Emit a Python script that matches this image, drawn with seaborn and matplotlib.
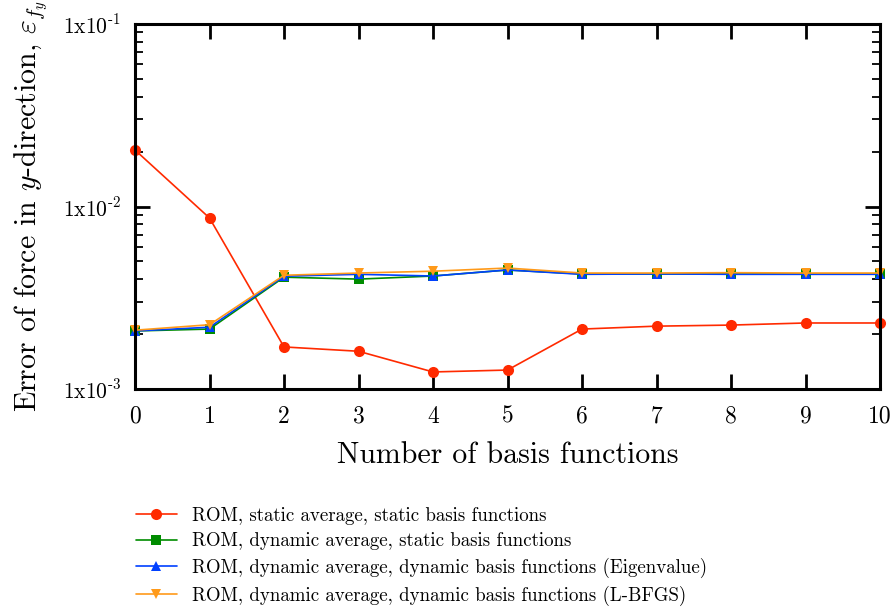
import numpy as np
import pandas as pd
import matplotlib
matplotlib.use("Agg")
import matplotlib.pyplot as plt
import seaborn as sns
from matplotlib.ticker import FixedLocator, LogLocator, NullFormatter

n_basis = [0, 1, 2, 3, 4, 5, 6, 7, 8, 9, 10]
static_static = [0.0204, 0.00865, 0.00170, 0.00161, 0.00124, 0.00127, 0.00213, 0.00221, 0.00224, 0.00230, 0.00230]
dyn_static = [0.00208, 0.00213, 0.00410, 0.00400, 0.00416, 0.00449, 0.00427, 0.00427, 0.00427, 0.00427, 0.00427]
dyn_eig = [0.00208, 0.00218, 0.00415, 0.00425, 0.00416, 0.00449, 0.00425, 0.00427, 0.00425, 0.00425, 0.00425]
dyn_lbfgs = [0.00210, 0.00225, 0.00420, 0.00432, 0.00442, 0.00460, 0.00432, 0.00432, 0.00434, 0.00432, 0.00432]

labels = ["ROM, static average, static basis functions",
          "ROM, dynamic average, static basis functions",
          "ROM, dynamic average, dynamic basis functions (Eigenvalue)",
          "ROM, dynamic average, dynamic basis functions (L-BFGS)"]
colors = ["#ff2a00", "#008c00", "#0040ff", "#ff9a1a"]
markers = ["o", "s", "^", "v"]
ytick_vals = [1e-3, 1e-2, 1e-1]
ytick_labels = [r"$\mathrm{1x10}^{\text{-3}}$", r"$\mathrm{1x10}^{\text{-2}}$", r"$\mathrm{1x10}^{\text{-1}}$"]

sns.set_style("ticks")
plt.rcParams["font.family"] = ["cmr10"]
plt.rcParams["mathtext.fontset"] = "cm"
plt.rcParams["axes.unicode_minus"] = False
plt.rcParams["axes.formatter.use_mathtext"] = True
for k in ["text.color", "axes.labelcolor", "xtick.color", "ytick.color", "axes.edgecolor"]:
    plt.rcParams[k] = "black"

series = [static_static, dyn_static, dyn_eig, dyn_lbfgs]
df = pd.concat([pd.DataFrame({"n": n_basis, "err": s, "series": lab})
                for s, lab in zip(series, labels)], ignore_index=True)

fig = plt.figure(figsize=(8.96, 6.10), dpi=100)
ax = fig.add_axes([135/896, 1-389/610, (880-135)/896, (389-24)/610])

for lab, c, m in zip(labels, colors, markers):
    sub = df[df["series"] == lab]
    sns.lineplot(data=sub, x="n", y="err", ax=ax, color=c, marker=m,
                 markersize=8 if m == "o" else 7.5, markeredgewidth=0,
                 linewidth=1.2, label=lab, legend=False, clip_on=False)

ax.set_yscale("log")
ax.set_xlim(0, 10)
ax.set_ylim(1e-3, 1e-1)
ax.set_xticks(n_basis)
ax.set_xticklabels([str(v) for v in n_basis], fontsize=17)
ax.yaxis.set_major_locator(FixedLocator(ytick_vals))
ax.set_yticklabels(ytick_labels, fontsize=15.5)
ax.yaxis.set_minor_locator(LogLocator(base=10, subs=np.arange(2, 10), numticks=20))
ax.yaxis.set_minor_formatter(NullFormatter())

ax.tick_params(which="major", direction="in", length=11, width=2,
               top=True, right=True)
ax.tick_params(axis="x", which="major", pad=12)
ax.tick_params(axis="y", which="major", pad=10)
ax.tick_params(which="minor", direction="in", length=6, width=1.3,
               top=True, right=True)
for sp in ax.spines.values():
    sp.set_linewidth(2.2)
    sp.set_visible(True)

ax.set_xlabel("Number of basis functions", fontsize=21.5, labelpad=10)
ax.set_ylabel(r"Error of force in $y$-direction, $\varepsilon_{f_y}$", fontsize=21.5, labelpad=9)

handles, labs = ax.get_legend_handles_labels()
fig.legend(handles, labs, loc="upper left", bbox_to_anchor=(128/896, 1-499/610),
           frameon=False, fontsize=13.6, handlelength=2.2, labelspacing=0.4,
           handletextpad=0.8, borderaxespad=0)

fig.savefig("out.png", dpi=100)
